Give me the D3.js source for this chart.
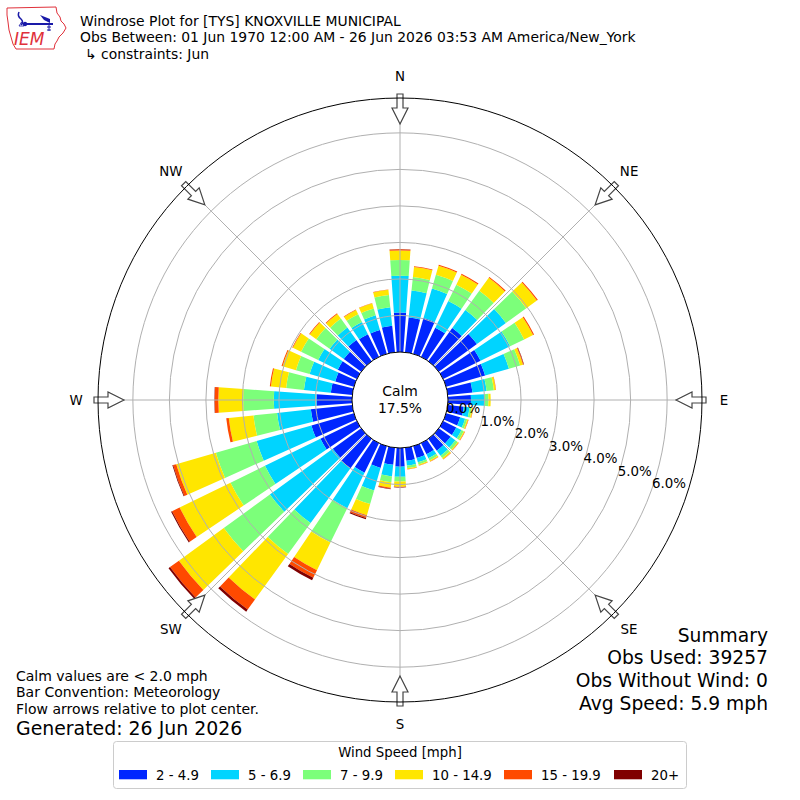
<!DOCTYPE html>
<html><head><meta charset="utf-8">
<script src="https://cdn.jsdelivr.net/npm/d3@7"></script>
<style>
body{margin:0;background:#fff}
svg{display:block}
text{font-family:"DejaVu Sans",sans-serif;fill:#000}
</style>
</head><body>
<svg id="chart" width="800" height="800"></svg>
<script>
// ---------------- data ----------------
const directions = [0,10,20,30,40,50,60,70,80,90,100,110,120,130,140,150,160,170,180,190,200,210,220,230,240,250,260,270,280,290,300,310,320,330,340,350];
const speedBins = ["2 - 4.9","5 - 6.9","7 - 9.9","10 - 14.9","15 - 19.9","20+"];
const binColors = ["#0026ff","#00d4ff","#7cff7a","#ffe600","#ff4a00","#800000"];
// percent of observations per direction for each speed bin
const bin2to5   = [1.08,0.96,1.02,0.89,1.12,1.29,1.14,1.11,0.68,0.63,0.44,0.40,0.40,0.40,0.40,0.34,0.34,0.36,0.51,0.47,0.62,0.90,1.00,0.96,1.11,1.21,1.14,0.97,0.59,0.53,0.58,0.59,0.72,0.69,0.68,0.73];
const bin5to7   = [1.01,0.74,0.84,0.81,0.61,0.98,0.90,0.68,0.39,0.36,0.16,0.14,0.16,0.16,0.17,0.12,0.12,0.13,0.28,0.32,0.64,1.08,1.85,2.13,1.69,1.56,0.93,1.17,0.74,0.73,0.60,0.48,0.42,0.37,0.42,0.51];
const bin7to10  = [0.43,0.37,0.39,0.50,0.65,0.69,0.43,0.32,0.20,0.12,0.06,0.06,0.07,0.08,0.08,0.07,0.06,0.07,0.13,0.16,0.39,1.05,1.05,1.56,1.05,1.16,0.65,0.84,0.49,0.39,0.52,0.45,0.30,0.24,0.19,0.34];
const bin10to15 = [0.26,0.28,0.26,0.30,0.44,0.36,0.27,0.08,0.05,0.06,0.03,0.03,0.03,0.03,0.04,0.03,0.03,0.03,0.14,0.15,0.32,0.84,1.54,1.52,1.55,1.13,0.68,0.68,0.42,0.38,0.25,0.22,0.16,0.13,0.15,0.14];
const bin15to20 = [0.03,0.02,0.03,0.03,0.03,0.03,0.03,0.02,0.01,0.00,0.01,0.01,0.01,0.01,0.01,0.01,0.01,0.01,0.01,0.03,0.08,0.23,0.34,0.30,0.23,0.09,0.07,0.10,0.03,0.03,0.02,0.02,0.02,0.01,0.01,0.01];
const bin20plus = [0.01,0.00,0.00,0.00,0.00,0.00,0.00,0.01,0.00,0.00,0.00,0.00,0.00,0.00,0.00,0.00,0.00,0.00,0.01,0.01,0.03,0.08,0.07,0.05,0.03,0.02,0.00,0.01,0.00,0.00,0.00,0.00,0.00,0.00,0.00,0.00];
const radialTicks = [0,1,2,3,4,5,6];
const compassNames = ["N","NE","E","SE","S","SW","W","NW"];
const compassAngles = [0,45,90,135,180,225,270,315];
const calmPct = 17.5;
const titleLines = ["Windrose Plot for [TYS] KNOXVILLE MUNICIPAL",
  "Obs Between: 01 Jun 1970 12:00 AM - 26 Jun 2026 03:53 AM America/New_York",
  "\u21b3 constraints: Jun"];
const noteLines = ["Calm values are < 2.0 mph","Bar Convention: Meteorology","Flow arrows relative to plot center."];
const generatedText = "Generated: 26 Jun 2026";
const summaryLines = ["Summary","Obs Used: 39257","Obs Without Wind: 0","Avg Speed: 5.9 mph"];
const legendTitle = "Wind Speed [mph]";

// ---------------- setup ----------------
const svg = d3.select("#chart");
const cx = 400, cy = 400;
const calmR = 48, outerR = 300;
const r = d3.scaleLinear().domain([0, 6.9]).range([calmR, outerR]);
const deg = Math.PI/180;
const g = svg.append("g").attr("transform", `translate(${cx},${cy})`);

const series = [bin2to5,bin5to7,bin7to10,bin10to15,bin15to20,bin20plus];
const rows = directions.map((d,i)=>{
  const o = {dir:d};
  series.forEach((s,k)=>o["b"+k]=s[i]);
  return o;
});
const keys = series.map((s,k)=>"b"+k);
const stacked = d3.stack().keys(keys)(rows);

const arc = d3.arc();
const halfW = 4;
stacked.forEach((layer,k)=>{
  g.append("g").selectAll("path").data(layer).join("path")
    .attr("d", d => arc({innerRadius:r(d[0]), outerRadius:r(d[1]),
       startAngle:(d.data.dir-halfW)*deg, endAngle:(d.data.dir+halfW)*deg}))
    .attr("fill", binColors[k]);
});

// grid rings
const gridColor = "#b0b0b0";
g.append("g").selectAll("circle").data(radialTicks.filter(t=>t>0)).join("circle")
  .attr("r", d=>r(d)).attr("fill","none").attr("stroke",gridColor).attr("stroke-width",1);
// radial lines
g.append("g").selectAll("line").data(compassAngles).join("line")
  .attr("x1",0).attr("y1",0)
  .attr("x2",d=>outerR*Math.sin(d*deg)).attr("y2",d=>-outerR*Math.cos(d*deg))
  .attr("stroke",gridColor).attr("stroke-width",1);

// calm circle
g.append("circle").attr("r",calmR).attr("fill","#fff").attr("stroke","#000").attr("stroke-width",1);
g.append("text").attr("x",0).attr("y",-4).attr("text-anchor","middle").attr("font-size",13.9).text("Calm");
g.append("text").attr("x",0).attr("y",12.5).attr("text-anchor","middle").attr("font-size",13.9).text(calmPct.toFixed(1)+"%");

// radial tick labels
const la = 20*deg;
g.append("g").selectAll("text").data(radialTicks).join("text")
  .attr("x",d=>r(d)*Math.cos(la)+1)
  .attr("y",d=>r(d)*Math.sin(la)-3)
  .attr("font-size",13.4)
  .text(d=>d.toFixed(1)+"%");

// arrows
function pt(rad, w, a){ // a compass degrees
  const ux=Math.sin(a*deg), uy=-Math.cos(a*deg);
  const vx=Math.cos(a*deg), vy=Math.sin(a*deg);
  return [rad*ux + w*vx, rad*uy + w*vy];
}
const arrowShape = [[276,0],[292,8],[292,3],[306,3],[306,-3],[292,-3],[292,-8]];
g.append("g").selectAll("path").data(compassAngles).join("path")
  .attr("d", a => "M" + arrowShape.map(p=>pt(p[0],p[1],a).join(",")).join("L") + "Z")
  .attr("fill","#fff").attr("stroke","#444").attr("stroke-width",1.2).attr("stroke-linejoin","miter");

// outer circle
g.append("circle").attr("r",outerR+2).attr("fill","none").attr("stroke","#000").attr("stroke-width",1);

// compass labels
g.append("g").selectAll("text").data(compassNames).join("text")
  .attr("x",(d,i)=>324*Math.sin(compassAngles[i]*deg))
  .attr("y",(d,i)=>-324*Math.cos(compassAngles[i]*deg)+4.8)
  .attr("text-anchor","middle").attr("font-size",13.4).text(d=>d);

// titles
svg.append("g").selectAll("text").data(titleLines).join("text")
  .attr("x",(d,i)=> i===2 ? 85 : 80).attr("y",(d,i)=>25.7+i*16.7)
  .attr("font-size",13.9).text(d=>d);

// notes
svg.append("g").selectAll("text").data(noteLines).join("text")
  .attr("x",16).attr("y",(d,i)=>680.5+i*16.7).attr("font-size",14).text(d=>d);
svg.append("text").attr("x",16).attr("y",735).attr("font-size",18.9).text(generatedText);

// summary
svg.append("g").selectAll("text").data(summaryLines).join("text")
  .attr("x",768).attr("y",(d,i)=>641.5+i*22.9).attr("text-anchor","end").attr("font-size",18.7).text(d=>d);

// legend
const lg = svg.append("g");
lg.append("rect").attr("x",113.5).attr("y",741.5).attr("width",573).attr("height",47).attr("rx",3)
  .attr("fill","#fff").attr("fill-opacity",0.8).attr("stroke","#cccccc").attr("stroke-width",1);
lg.append("text").attr("x",400).attr("y",757).attr("text-anchor","middle").attr("font-size",13.3).text(legendTitle);
const swX = [119,211,303,395,504,614];
const items = lg.selectAll("g.item").data(speedBins).join("g").attr("class","item")
  .attr("transform",(d,i)=>`translate(${swX[i]},0)`);
items.append("rect").attr("x",0).attr("y",770).attr("width",28).attr("height",9.3).attr("fill",(d,i)=>binColors[i]);
items.append("text").attr("x",37).attr("y",779.5).attr("font-size",13.3).text(d=>d);

// logo
const logo = svg.append("g");
logo.append("path")
  .attr("d","M7,8 L56,7 L57,13 L60,17 L61,21 L64,24 L66,28 L63,33 L59,37 L57,41 L55,44 L54,49 L16,49 L13,44 L11,37 L9,30 L8,22 L7,15 Z")
  .attr("fill","none").attr("stroke","#e0303a").attr("stroke-width",1);
logo.append("path").attr("d","M19,12 Q17,16 21,19 Q24,22 21,25").attr("fill","none").attr("stroke","#1a1aa8").attr("stroke-width",1.5);
logo.append("path").attr("d","M23,24 L53,24").attr("stroke","#1a1aa8").attr("stroke-width",2);
logo.append("path").attr("d","M40,15 L50,19 L50,23 L44,20 Z").attr("fill","#1a1aa8");
logo.append("circle").attr("cx",25).attr("cy",24).attr("r",2.2).attr("fill","#1a1aa8");
logo.append("path").attr("d","M19,26 L21.5,22 L24,26 Z").attr("fill","none").attr("stroke","#1a1aa8").attr("stroke-width",0.8);
logo.append("path").attr("d","M49,25 L49,31 M47,27 L51,27 M47,30 L51,30").attr("stroke","#1a1aa8").attr("stroke-width",1);
logo.append("text").attr("x",14).attr("y",44.5).attr("font-family","Liberation Serif, serif").attr("font-style","italic")
  .attr("font-size",17).attr("fill","#e0303a").style("fill","#e0303a").text("IEM");
</script>
</body></html>
